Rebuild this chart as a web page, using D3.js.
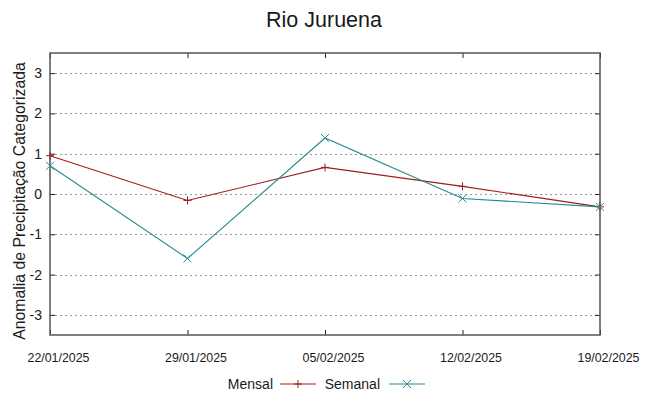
<!DOCTYPE html>
<html>
<head>
<meta charset="utf-8">
<script src="https://cdn.jsdelivr.net/npm/d3@7"></script>
<style>
  body { margin: 0; background: #fff; }
  text { font-family: "Liberation Sans", Arial, sans-serif; fill: #1a1a1a; }
</style>
</head>
<body>
<svg id="chart"></svg>
<script>
// Chart data
const dates = ["22/01/2025", "29/01/2025", "05/02/2025", "12/02/2025", "19/02/2025"];
const mensal = [0.95, -0.16, 0.66, 0.19, -0.32];
const semanal = [0.70, -1.60, 1.39, -0.11, -0.32];
const yTicks = [-3, -2, -1, 0, 1, 2, 3];

const svgWidth = 648, svgHeight = 396;
const margin = { top: 53, right: 48, bottom: 61, left: 50 };
const width = svgWidth - margin.left - margin.right;
const height = svgHeight - margin.top - margin.bottom;

const svg = d3.select("#chart")
    .attr("width", svgWidth)
    .attr("height", svgHeight);

const g = svg.append("g")
    .attr("transform", `translate(${margin.left}, ${margin.top})`);

// Scales
const xScale = d3.scalePoint().domain(dates).range([0, width]);
const yScale = d3.scaleLinear().domain([-3.5, 3.5]).range([height, 0]);

// Grid lines (dotted)
g.append("g")
    .selectAll("line")
    .data(yTicks)
    .join("line")
    .attr("x1", 0)
    .attr("x2", width)
    .attr("y1", d => Math.round(yScale(d)) + 0.5)
    .attr("y2", d => Math.round(yScale(d)) + 0.5)
    .attr("stroke", "#999")
    .attr("stroke-width", 1)
    .attr("stroke-dasharray", "2,3");

// Axes (gnuplot style inward ticks on all sides)
const tickLen = 5;
const yLeft = g.append("g")
    .call(d3.axisLeft(yScale).tickValues(yTicks).tickFormat(d => String(d))
        .tickSize(-tickLen).tickPadding(tickLen + 3));
const yRight = g.append("g")
    .attr("transform", `translate(${width}, 0)`)
    .call(d3.axisRight(yScale).tickValues(yTicks).tickSize(-tickLen).tickFormat(""));
const xBottom = g.append("g")
    .attr("transform", `translate(0, ${height})`)
    .call(d3.axisBottom(xScale).tickSize(-tickLen).tickPadding(tickLen + 13));
const xTop = g.append("g")
    .call(d3.axisTop(xScale).tickSize(-tickLen).tickFormat(""));

[yLeft, yRight, xBottom, xTop].forEach(a => {
    a.select(".domain").remove();
    a.selectAll(".tick line").attr("stroke", "#222");
});
yLeft.selectAll("text").style("font-size", "14px").attr("fill", "#1a1a1a");
xBottom.selectAll("text")
    .style("font-size", "12.4px")
    .attr("dx", 8)
    .attr("fill", "#1a1a1a");

// Frame
g.append("rect")
    .attr("x", 0)
    .attr("y", 0)
    .attr("width", width)
    .attr("height", height)
    .attr("fill", "none")
    .attr("stroke", "#555")
    .attr("stroke-width", 1.5);

// Lines
const series = [
    { name: "Mensal", values: mensal, color: "#a31a1a", marker: "plus" },
    { name: "Semanal", values: semanal, color: "#268c8c", marker: "cross" }
];

const line = d3.line()
    .x((d, i) => xScale(dates[i]))
    .y(d => yScale(d));

function drawMarker(sel, type, x, y, color) {
    const s = 4;
    const p = type === "plus"
        ? `M${x - s},${y}H${x + s}M${x},${y - s}V${y + s}`
        : `M${x - s},${y - s}L${x + s},${y + s}M${x - s},${y + s}L${x + s},${y - s}`;
    sel.append("path").attr("d", p).attr("stroke", color).attr("stroke-width", 1).attr("fill", "none");
}

series.forEach(s => {
    g.append("path")
        .datum(s.values)
        .attr("fill", "none")
        .attr("stroke", s.color)
        .attr("stroke-width", 1.1)
        .attr("d", line);
    s.values.forEach((v, i) => drawMarker(g, s.marker, xScale(dates[i]), yScale(v), s.color));
});

// Title
svg.append("text")
    .attr("x", 324)
    .attr("y", 27)
    .attr("text-anchor", "middle")
    .style("font-size", "21.5px")
    .text("Rio Juruena");

// Y axis label
svg.append("text")
    .attr("transform", `translate(25, 201) rotate(-90)`)
    .attr("text-anchor", "middle")
    .style("font-size", "15.8px")
    .text("Anomalia de Precipitação Categorizada");

// Legend
const legendY = 384;
const legend = [
    { name: "Mensal", textEnd: 273, x0: 280, x1: 316 },
    { name: "Semanal", textEnd: 380, x0: 389, x1: 425 }
];
legend.forEach((l, i) => {
    const s = series[i];
    svg.append("text")
        .attr("x", l.textEnd)
        .attr("y", legendY + 5)
        .attr("text-anchor", "end")
        .style("font-size", "14px")
        .text(l.name);
    svg.append("line")
        .attr("x1", l.x0).attr("x2", l.x1)
        .attr("y1", legendY).attr("y2", legendY)
        .attr("stroke", s.color).attr("stroke-width", 1.1);
    drawMarker(svg, s.marker, (l.x0 + l.x1) / 2, legendY, s.color);
});
</script>
</body>
</html>
